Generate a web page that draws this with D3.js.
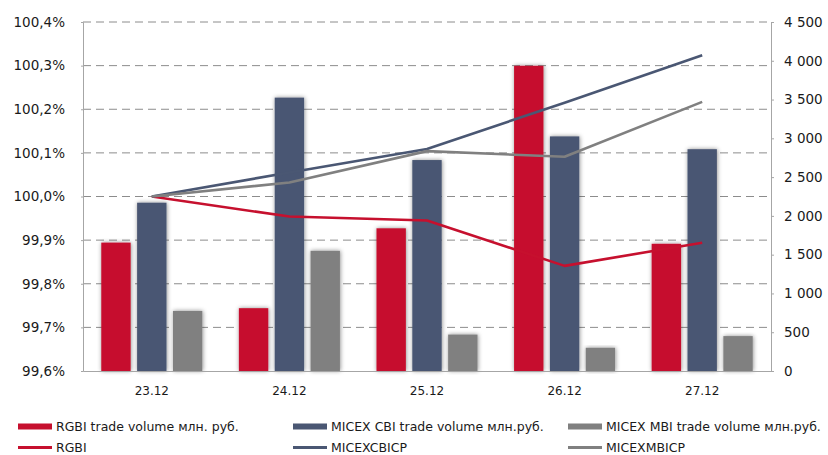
<!DOCTYPE html>
<html>
<head>
<meta charset="utf-8">
<script src="https://cdn.jsdelivr.net/npm/d3@7"></script>
<style>
  html, body { margin: 0; padding: 0; background: #fff; }
  svg { display: block; font-family: "DejaVu Sans", Verdana, sans-serif; }
</style>
</head>
<body>
<div id="chart"></div>
<script>
// Data
const dates = ['23.12', '24.12', '25.12', '26.12', '27.12'];
const rgbiVolume = [1655, 810, 1840, 3935, 1640];
const cbiVolume = [2170, 3525, 2720, 3025, 2860];
const mbiVolume = [775, 1550, 470, 300, 450];
const rgbiIndex = [100.0, 99.954, 99.945, 99.841, 99.894];
const cbiIndex = [100.0, 100.055, 100.109, 100.215, 100.324];
const mbiIndex = [100.0, 100.032, 100.104, 100.091, 100.217];
const leftTicks = [99.6, 99.7, 99.8, 99.9, 100.0, 100.1, 100.2, 100.3, 100.4];
const rightTicks = [0, 500, 1000, 1500, 2000, 2500, 3000, 3500, 4000, 4500];

const barSeries = [
  { key: 'rgbi', name: 'RGBI trade volume млн. руб.', values: rgbiVolume, color: '#C6102E' },
  { key: 'cbi', name: 'MICEX CBI trade volume млн.руб.', values: cbiVolume, color: '#4A5773' },
  { key: 'mbi', name: 'MICEX MBI trade volume млн.руб.', values: mbiVolume, color: '#808080' }
];
const lineSeries = [
  { key: 'rgbiIdx', name: 'RGBI', values: rgbiIndex, color: '#C6102E' },
  { key: 'cbiIdx', name: 'MICEXCBICP', values: cbiIndex, color: '#4A5773' },
  { key: 'mbiIdx', name: 'MICEXMBICP', values: mbiIndex, color: '#808080' }
];

// Layout
const W = 828, H = 455;
const M = { top: 22, right: 57, bottom: 84, left: 83 };
const plotW = W - M.left - M.right;
const plotH = H - M.top - M.bottom;

const svg = d3.select('#chart').append('svg')
  .attr('width', W).attr('height', H);

// soft shadow behind the bars
const defs = svg.append('defs');
const shadow = defs.append('filter').attr('id', 'barShadow')
  .attr('x', '-30%').attr('y', '-10%').attr('width', '160%').attr('height', '120%');
shadow.append('feDropShadow')
  .attr('dx', 0.5).attr('dy', 0).attr('stdDeviation', 2.2)
  .attr('flood-color', '#000').attr('flood-opacity', 0.45);

const g = svg.append('g').attr('transform', `translate(${M.left},${M.top})`);

// Scales
const x0 = d3.scaleBand().domain(dates).range([0, plotW]).padding(0);
const x1 = d3.scaleBand().domain(barSeries.map(s => s.key))
  .range([0, x0.bandwidth()]).paddingInner(0.18).paddingOuter(0.51);
const yL = d3.scaleLinear().domain([99.6, 100.4]).range([plotH, 0]);
const yR = d3.scaleLinear().domain([0, 4500]).range([plotH, 0]);

// Gridlines (dashed)
g.append('g').attr('class', 'grid')
  .selectAll('line').data(leftTicks.slice(1)).enter().append('line')
  .attr('x1', 0).attr('x2', plotW)
  .attr('y1', d => yL(d)).attr('y2', d => yL(d))
  .attr('stroke', '#8c8c8c').attr('stroke-width', 1)
  .attr('stroke-dasharray', '8,5');

// Bars
const groups = g.append('g').attr('class', 'bars')
  .selectAll('g').data(dates).enter().append('g')
  .attr('transform', d => `translate(${x0(d)},0)`);

groups.selectAll('rect')
  .data((d, i) => barSeries.map(s => ({ key: s.key, color: s.color, v: s.values[i] })))
  .enter().append('rect')
  .attr('x', d => x1(d.key))
  .attr('width', x1.bandwidth())
  .attr('y', d => yR(d.v))
  .attr('height', d => plotH - yR(d.v))
  .attr('fill', d => d.color)
  .attr('filter', 'url(#barShadow)');

// Lines on left axis
const line = d3.line()
  .x((d, i) => x0(dates[i]) + x0.bandwidth() / 2)
  .y(d => yL(d));

g.append('g').attr('class', 'lines')
  .selectAll('path').data(lineSeries).enter().append('path')
  .attr('d', d => line(d.values))
  .attr('fill', 'none')
  .attr('stroke', d => d.color)
  .attr('stroke-width', 2.6)
  .attr('stroke-linejoin', 'round');

// Axes
const axisColor = '#a6a6a6';
const fmtLeft = d => d3.format('.1f')(d).replace('.', ',') + '%';
const ruLocale = d3.formatLocale({ decimal: ',', thousands: '\u00a0', grouping: [3], currency: ['', ''] });
const fmtRight = ruLocale.format(',');

const leftAxis = g.append('g')
  .call(d3.axisLeft(yL).tickValues(leftTicks).tickFormat(fmtLeft).tickSize(2).tickPadding(16));
const rightAxis = g.append('g').attr('transform', `translate(${plotW},0)`)
  .call(d3.axisRight(yR).tickValues(rightTicks).tickFormat(fmtRight).tickSize(3).tickPadding(10));
const bottomAxis = g.append('g').attr('transform', `translate(0,${plotH})`)
  .call(d3.axisBottom(x0).tickSize(0).tickPadding(15));

[leftAxis, rightAxis, bottomAxis].forEach(a => {
  a.select('.domain').attr('stroke', axisColor);
  a.selectAll('.tick line').attr('stroke', axisColor);
  a.selectAll('text').attr('fill', '#1a1a1a').attr('font-family', '"DejaVu Sans", Verdana, sans-serif');
});
leftAxis.selectAll('text').attr('font-size', 13.5);
rightAxis.selectAll('text').attr('font-size', 13.5);
bottomAxis.selectAll('text').attr('font-size', 12);

// Legend
const legendX = [18, 293, 568];
const legend = svg.append('g').attr('class', 'legend')
  .attr('font-size', 12.5).attr('fill', '#1a1a1a');

barSeries.forEach((s, i) => {
  const it = legend.append('g').attr('transform', `translate(${legendX[i]},426.5)`);
  it.append('rect').attr('x', 0).attr('y', -3).attr('width', 34).attr('height', 6).attr('fill', s.color);
  it.append('text').attr('x', 38).attr('y', 4.5).text(s.name);
});
lineSeries.forEach((s, i) => {
  const it = legend.append('g').attr('transform', `translate(${legendX[i]},447.5)`);
  it.append('line').attr('x1', 0).attr('x2', 34).attr('y1', 0).attr('y2', 0)
    .attr('stroke', s.color).attr('stroke-width', 3);
  it.append('text').attr('x', 38).attr('y', 4).text(s.name);
});
</script>
</body>
</html>
